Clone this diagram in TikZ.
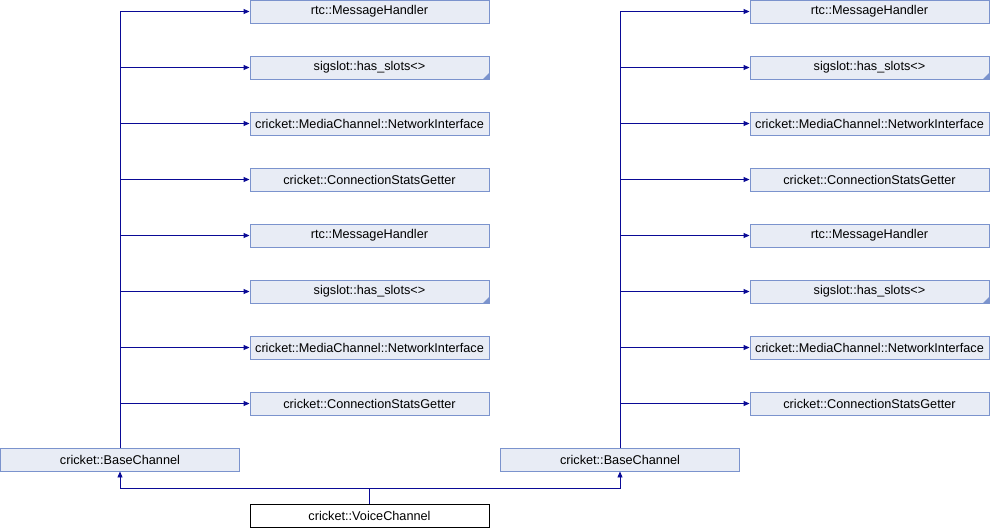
\documentclass[tikz,border=0pt]{standalone}
\usepackage{fontspec}
\setmainfont{Liberation Sans}
\usetikzlibrary{arrows.meta}
\definecolor{boxfill}{HTML}{E8ECF5}
\definecolor{boxline}{HTML}{7B93CD}
\definecolor{edgecol}{HTML}{0A0A96}
\begin{document}
\begin{tikzpicture}[x=1pt,y=-1pt,
  cls/.style={draw=boxline, fill=boxfill, line width=0.9pt, minimum width=239pt, minimum height=23pt, inner sep=0pt, font=\fontsize{12.7}{14}\selectfont},
  trunc/.style={path picture={\fill[boxline] (path picture bounding box.south east) -- ++(-6pt,0pt) -- ++(6pt,6pt) -- cycle;}},
  main/.style={draw=black, fill=white, line width=0.9pt, minimum width=239pt, minimum height=23pt, inner sep=0pt, font=\fontsize{12.7}{14}\selectfont},
  edge/.style={draw=edgecol, line width=0.9pt, -{Triangle[length=6pt,width=5pt]}}]
\useasboundingbox (0,0) rectangle (990,528);
% left column parents
\node[cls] (L1) at (369.5,11.5) {rtc::MessageHandler};
\node[cls,trunc] (L2) at (369.5,67.5) {sigslot::has\_slots<>};
\node[cls] (L3) at (369.5,123.5) {cricket::MediaChannel::NetworkInterface};
\node[cls] (L4) at (369.5,179.5) {cricket::ConnectionStatsGetter};
\node[cls] (L5) at (369.5,235.5) {rtc::MessageHandler};
\node[cls,trunc] (L6) at (369.5,291.5) {sigslot::has\_slots<>};
\node[cls] (L7) at (369.5,347.5) {cricket::MediaChannel::NetworkInterface};
\node[cls] (L8) at (369.5,403.5) {cricket::ConnectionStatsGetter};
% right column parents
\node[cls] (R1) at (869.5,11.5) {rtc::MessageHandler};
\node[cls,trunc] (R2) at (869.5,67.5) {sigslot::has\_slots<>};
\node[cls] (R3) at (869.5,123.5) {cricket::MediaChannel::NetworkInterface};
\node[cls] (R4) at (869.5,179.5) {cricket::ConnectionStatsGetter};
\node[cls] (R5) at (869.5,235.5) {rtc::MessageHandler};
\node[cls,trunc] (R6) at (869.5,291.5) {sigslot::has\_slots<>};
\node[cls] (R7) at (869.5,347.5) {cricket::MediaChannel::NetworkInterface};
\node[cls] (R8) at (869.5,403.5) {cricket::ConnectionStatsGetter};
% base channels
\node[cls] (BL) at (120,459.5) {cricket::BaseChannel};
\node[cls] (BR) at (620,459.5) {cricket::BaseChannel};
% voice channel
\node[main] (V) at (369.5,515.5) {cricket::VoiceChannel};
% edges
\foreach \n in {1,...,8} {
  \draw[edge] (BL.north) |- (L\n.west);
  \draw[edge] (BR.north) |- (R\n.west);
}
\coordinate (J) at (369.5,488);
\draw[edge] (V.north) -- (J) -| (BL.south);
\draw[edge] (V.north) -- (J) -| (BR.south);
\end{tikzpicture}
\end{document}
